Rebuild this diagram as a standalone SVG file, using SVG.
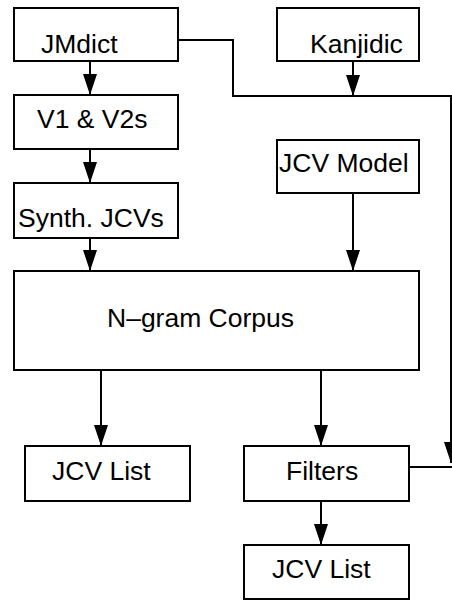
<svg xmlns="http://www.w3.org/2000/svg" width="452" height="601" viewBox="0 0 452 601">
<style>
.box{fill:#fff;stroke:#000;stroke-width:2}
.t{font-family:"Liberation Sans",Arial,sans-serif;font-size:26.5px;fill:#000}
.c{fill:none;stroke:#000;stroke-width:2}
</style>
<defs>
<marker id="ah" markerUnits="userSpaceOnUse" markerWidth="21" markerHeight="14" viewBox="0 0 21 14" refX="21" refY="7" orient="auto">
<path d="M0,0 L21,7 L0,14 z" fill="#000"/>
</marker>
</defs>
<rect width="452" height="601" fill="#fff"/>
<g id="connectors">
<path class="c" d="M90,62 V95" marker-end="url(#ah)"/>
<path class="c" d="M90,149 V183" marker-end="url(#ah)"/>
<path class="c" d="M90,238 V271" marker-end="url(#ah)"/>
<path class="c" d="M353,193 V271" marker-end="url(#ah)"/>
<path class="c" d="M353,62 V96" marker-end="url(#ah)"/>
<path class="c" d="M178,40 H233 V96 H451 V463" marker-end="url(#ah)"/>
<path class="c" d="M101,370 V446" marker-end="url(#ah)"/>
<path class="c" d="M321,370 V446" marker-end="url(#ah)"/>
<path class="c" d="M321,501 V545" marker-end="url(#ah)"/>
<path class="c" d="M409,467 H452"/>
</g>
<g id="jmdict"><rect class="box" x="14" y="8" width="164" height="53"/><text class="t" x="41" y="53">JMdict</text></g>
<g id="kanjidic"><rect class="box" x="277" y="8" width="142" height="53"/><text class="t" x="310" y="53">Kanjidic</text></g>
<g id="v1v2"><rect class="box" x="14" y="95" width="164" height="54"/><text class="t" x="37" y="128">V1 &amp; V2s</text></g>
<g id="jcvmodel"><rect class="box" x="277" y="140" width="142" height="53"/><text class="t" x="279" y="172">JCV Model</text></g>
<g id="synth"><rect class="box" x="14" y="183" width="164" height="55"/><text class="t" x="18" y="227">Synth. JCVs</text></g>
<g id="ngram"><rect class="box" x="14" y="271" width="405" height="99"/><text class="t" x="107" y="327">N–gram Corpus</text></g>
<g id="jcvlist1"><rect class="box" x="25" y="446" width="165" height="55"/><text class="t" x="52" y="480">JCV List</text></g>
<g id="filters"><rect class="box" x="244" y="446" width="165" height="55"/><text class="t" x="286" y="480">Filters</text></g>
<g id="jcvlist2"><rect class="box" x="244" y="545" width="165" height="54"/><text class="t" x="272" y="578">JCV List</text></g>
</svg>
